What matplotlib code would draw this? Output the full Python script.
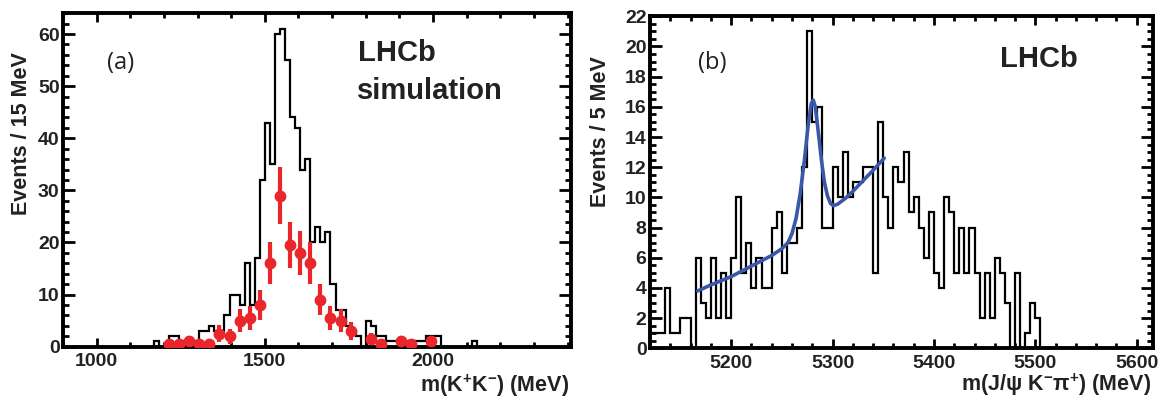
"""
Two-panel LHCb style mass plots
(a) m(K+K-) simulation histogram + data points
(b) m(J/psi K- pi+) histogram + fit curve
Output: out.png (1161 x 400)
"""

import numpy as np
import matplotlib
matplotlib.use("Agg")
import matplotlib.pyplot as plt
from matplotlib.ticker import MultipleLocator

plt.rcParams["font.family"] = ["Liberation Sans", "DejaVu Sans"]
plt.rcParams["font.weight"] = "bold"
plt.rcParams["mathtext.default"] = "regular"

# -- Colors -----------------------------------------------------------------
C_HIST = "black"
C_DATA = "#E8262B"   # red points
C_FIT  = "#3B57A7"   # blue fit curve
C_TEXT = "#222222"

# -- (a) K+K- mass: simulation histogram, 15 MeV bins from 1170 MeV ---------
kk_edges = np.arange(1170, 2131, 15)
kk_counts = [1, 0, 0, 2, 2, 1, 1, 1, 1, 3,
             3, 4, 3, 3, 6, 10, 10, 8, 16, 8,
             17, 32, 43, 35, 60, 61, 55, 44, 42, 34,
             36, 20, 23, 20, 22, 12, 7, 7, 4, 3,
             2, 0, 5, 4, 2, 2, 1, 1, 1, 1,
             1, 1, 1, 1, 2, 2, 2, 0, 0, 0,
             0, 0, 0, 1]

# data points (red)
kk_x = [1215, 1245, 1275, 1305, 1335, 1365, 1395, 1425, 1455, 1485, 1515, 1545,
        1575, 1605, 1635, 1665, 1695, 1725, 1755, 1815, 1845, 1905, 1935, 1995]
kk_y = [0.5, 0.5, 1, 0.5, 0.5, 2.5, 2, 5, 5.5, 8, 16, 29,
        19.5, 18, 16, 9, 5.5, 5, 3, 1.5, 0.5, 1, 0.5, 1]
kk_err = [0.7, 0.7, 1, 0.7, 0.7, 1.6, 1.4, 2.2, 2.3, 2.8, 4, 5.4,
          4.4, 4.2, 4, 3, 2.3, 2.2, 1.7, 1.2, 0.7, 1, 0.7, 1]

# -- (b) J/psi K- pi+ mass: 5 MeV bins from 5120 MeV ------------------------
jk_edges = np.arange(5120, 5506, 5)
jk_counts = [1, 1, 1, 4, 1, 1, 2, 2, 0, 6,
             3, 2, 6, 2, 5, 2, 6, 10, 5, 7,
             4, 6, 4, 4, 8, 9, 5, 7, 7, 8,
             12, 21, 15, 16, 8, 8, 12, 10, 13, 10,
             11, 11, 12, 12, 5, 15, 10, 8, 12, 11,
             13, 9, 10, 8, 6, 9, 5, 4, 10, 9,
             5, 8, 5, 8, 5, 2, 5, 2, 6, 5,
             3, 0, 5, 0, 1, 3, 2]

# fit curve (blue)
fit_x = [5167, 5180, 5200, 5220, 5240, 5250, 5256, 5260, 5264, 5268,
         5272, 5276, 5279, 5281, 5283, 5286, 5289, 5292, 5295, 5298,
         5301, 5305, 5312, 5320, 5330, 5340, 5351]
fit_y = [3.8, 4.2, 4.75, 5.45, 6.15, 6.6, 7.0, 7.6, 8.6, 10.2,
         12.3, 14.8, 16.2, 16.45, 16.0, 14.3, 12.5, 11.0, 10.1, 9.6,
         9.45, 9.55, 9.9, 10.4, 11.1, 11.8, 12.6]

# -- Figure -----------------------------------------------------------------
W, H = 1161, 400
fig = plt.figure(figsize=(W / 100, H / 100), dpi=100)
fig.patch.set_facecolor("white")


def px_axes(x0, y0, x1, y1):
    # axes placed by pixel box (top-left origin)
    return fig.add_axes([x0 / W, 1 - y1 / H, (x1 - x0) / W, (y1 - y0) / H])


def root_style(ax, xmaj, xmin, ymaj, ymin):
    for s in ax.spines.values():
        s.set_linewidth(2.8)
    ax.xaxis.set_major_locator(MultipleLocator(xmaj))
    ax.xaxis.set_minor_locator(MultipleLocator(xmin))
    ax.yaxis.set_major_locator(MultipleLocator(ymaj))
    ax.yaxis.set_minor_locator(MultipleLocator(ymin))
    ax.tick_params(which="both", direction="in", top=True, right=True,
                   width=2.0, labelsize=14, color="black", labelcolor=C_TEXT)
    ax.tick_params(axis="y", which="major", length=8.5, pad=2.5)
    ax.tick_params(axis="y", which="minor", length=4)
    ax.tick_params(axis="x", which="major", length=6.5, pad=4.5)
    ax.tick_params(axis="x", which="minor", length=3.5)
    for lab in ax.get_xticklabels() + ax.get_yticklabels():
        lab.set_fontweight("bold")


ax1 = px_axes(63, 12.7, 571, 346.7)
ax2 = px_axes(650, 16.3, 1153, 348.3)

# -- Panel (a) --------------------------------------------------------------
ax1.stairs(kk_counts, kk_edges, color=C_HIST, lw=1.6, baseline=0, zorder=2)
ax1.errorbar(kk_x, kk_y, yerr=kk_err, fmt="o", color=C_DATA, ms=7.5,
             elinewidth=3.0, capsize=0, zorder=4)
ax1.set_xlim(900, 2410)
ax1.set_ylim(0, 64.1)
root_style(ax1, 500, 100, 10, 2)

# -- Panel (b) --------------------------------------------------------------
ax2.stairs(jk_counts, jk_edges, color=C_HIST, lw=1.6, baseline=0, zorder=2)
ax2.plot(fit_x, fit_y, color=C_FIT, lw=2.6, solid_capstyle="round", zorder=4)
ax2.set_xlim(5120, 5616)
ax2.set_ylim(0, 22)
root_style(ax2, 100, 20, 2, 0.5)

# -- Texts ------------------------------------------------------------------
fig.text(121 / W, 1 - 63 / H, "(a)", ha="center", va="center", fontsize=17,
         fontweight="normal", family=["Open Sans", "DejaVu Sans"], color=C_TEXT)
fig.text(712 / W, 1 - 63 / H, "(b)", ha="center", va="center", fontsize=17,
         fontweight="normal", family=["Open Sans", "DejaVu Sans"], color=C_TEXT)
fig.text(358 / W, 1 - 53 / H, "LHCb", ha="left", va="center", fontsize=21,
         fontweight="bold", color=C_TEXT)
fig.text(357 / W, 1 - 91 / H, "simulation", ha="left", va="center", fontsize=21,
         fontweight="bold", color=C_TEXT)
fig.text(1000 / W, 1 - 59 / H, "LHCb", ha="left", va="center", fontsize=21,
         fontweight="bold", color=C_TEXT)

fig.text(22 / W, 1 - 52 / H, "Events / 15 MeV", rotation=90, ha="center",
         va="top", fontsize=15.5, fontweight="bold", color=C_TEXT)
fig.text(601 / W, 1 - 56 / H, "Events / 5 MeV", rotation=90, ha="center",
         va="top", fontsize=15.5, fontweight="bold", color=C_TEXT)
fig.text(569 / W, 1 - 392 / H, r"m(K$^{+}$K$^{-}$) (MeV)", ha="right",
         va="baseline", fontsize=15.5, fontweight="bold", color=C_TEXT)
fig.text(1151 / W, 1 - 391 / H, r"m(J/ψ K$^{-}$π$^{+}$) (MeV)", ha="right",
         va="baseline", fontsize=15.5, fontweight="bold", color=C_TEXT)

fig.savefig("out.png", dpi=100, facecolor="white")
plt.close(fig)
print("Saved: out.png")
